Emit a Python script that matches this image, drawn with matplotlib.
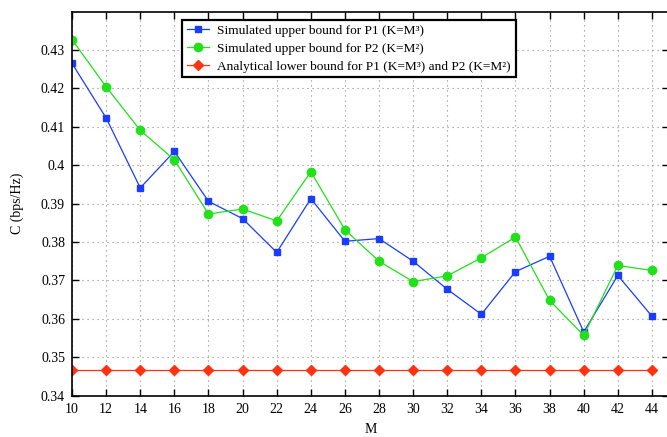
import matplotlib.pyplot as plt
import numpy as np

M = [10, 12, 14, 16, 18, 20, 22, 24, 26, 28, 30, 32, 34, 36, 38, 40, 42, 44]
p1_upper = [0.4265, 0.4123, 0.3941, 0.4036, 0.3906, 0.3861, 0.3773, 0.3913, 0.3802,
            0.3809, 0.3750, 0.3677, 0.3612, 0.3723, 0.3763, 0.3566, 0.3713, 0.3607]
p2_upper = [0.4327, 0.4204, 0.4091, 0.4014, 0.3873, 0.3886, 0.3855, 0.3983, 0.3832,
            0.3750, 0.3697, 0.3712, 0.3759, 0.3813, 0.3648, 0.3557, 0.3739, 0.3726]
lower = [0.3466] * len(M)

labels = ['Simulated upper bound for P1 (K=M\u00b3)',
          'Simulated upper bound for P2 (K=M\u00b2)',
          'Analytical lower bound for P1 (K=M\u00b3) and P2 (K=M\u00b2)']

plt.rcParams['font.family'] = ['Liberation Serif', 'DejaVu Serif']
plt.rcParams['font.size'] = 10

fig = plt.figure(figsize=(6.67, 4.37), dpi=100)
ax = fig.add_axes([0.108, 0.0945, 0.895, 0.879])

ax.plot(M, p1_upper, color='#1a3cff', marker='s', markersize=5, linewidth=0.9, label=labels[0])
ax.plot(M, p2_upper, color='#22e01a', marker='o', markersize=6, linewidth=0.9, label=labels[1])
ax.plot(M, lower, color='#ff3311', marker='D', markersize=5, linewidth=0.9, label=labels[2])

ax.set_xlim(10, 45)
ax.set_ylim(0.34, 0.44)
ax.set_xticks(np.arange(10, 45, 2))
ax.set_yticks(np.arange(0.34, 0.435, 0.01))
ax.set_yticklabels(['0.34', '0.35', '0.36', '0.37', '0.38', '0.39', '0.4', '0.41', '0.42', '0.43'])
ax.tick_params(direction='in', top=True, right=True, length=5, width=1, labelsize=10, pad=5)
ax.grid(True, linestyle=(0, (1, 3.5)), color='#8a8a8a', linewidth=0.8)
for s in ax.spines.values():
    s.set_linewidth(1.2)

ax.set_xlabel('M', fontsize=10, labelpad=5)
ax.set_ylabel('C (bps/Hz)', fontsize=10, labelpad=12)

leg = ax.legend(loc='upper left', bbox_to_anchor=(0.184, 0.979), fancybox=False,
                framealpha=1, edgecolor='black', fontsize=9.6, borderpad=0.35,
                labelspacing=0.42, handlelength=1.7, handletextpad=0.6, borderaxespad=0)
leg.get_frame().set_linewidth(1.6)

fig.savefig('out.png', dpi=100)
